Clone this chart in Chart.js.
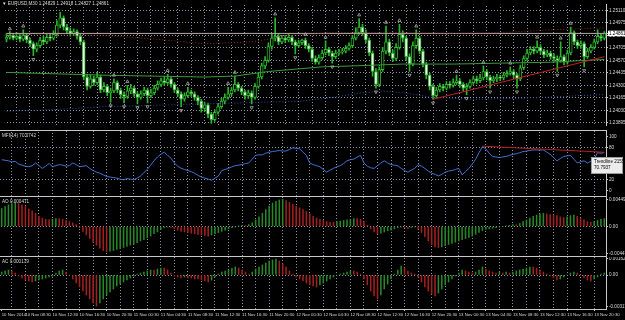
<!DOCTYPE html>
<html><head><meta charset="utf-8">
<script src="https://cdn.jsdelivr.net/npm/chart.js@4.4.1/dist/chart.umd.min.js"></script>
<style>
html,body{margin:0;padding:0;background:#000;}
#wrap{position:relative;width:625px;height:320px;background:#000;overflow:hidden;font-family:"Liberation Sans","DejaVu Sans",sans-serif;}
canvas{position:absolute;left:0;}
.sep{position:absolute;left:0;width:607px;height:1px;background:#c8c8c8;}
.lbl{position:absolute;left:2px;color:#d8d8d8;font-size:4.6px;line-height:5px;white-space:nowrap;}
#tip{position:absolute;left:591px;top:157px;width:32px;height:17px;background:#ececec;border:1px solid #9a9a9a;color:#000;font-size:4.6px;line-height:6px;padding:1px 0 0 2px;box-sizing:border-box;white-space:nowrap;}
</style></head>
<body>
<div id="wrap">
  <canvas id="cMain" width="625" height="130" style="top:0px"></canvas>
  <div class="sep" style="top:130px"></div>
  <canvas id="cMfi" width="625" height="65" style="top:131px"></canvas>
  <div class="sep" style="top:196px"></div>
  <canvas id="cAo" width="625" height="59" style="top:197px"></canvas>
  <div class="sep" style="top:256px"></div>
  <canvas id="cAc" width="625" height="63" style="top:257px"></canvas>
  <div class="lbl" style="top:1px">&#9660; EURUSD,M30 1.24829 1.24918 1.24827 1.24861</div>
  <div class="lbl" style="top:133px">MFI(14) 70.0742</div>
  <div class="lbl" style="top:199px">AO 0.000471</div>
  <div class="lbl" style="top:259px">AC 0.000179</div>
  <div id="tip">Trendline 2155<br>70.7937</div>
</div>
<script>
// ---------- data ----------
const tickLabels = ["10 Nov 2014","10 Nov 08:30","10 Nov 12:30","10 Nov 16:30","10 Nov 20:30","11 Nov 00:30","11 Nov 04:30","11 Nov 08:30","11 Nov 12:30","11 Nov 16:30","11 Nov 20:30","12 Nov 00:30","12 Nov 04:30","12 Nov 08:30","12 Nov 12:30","12 Nov 16:30","12 Nov 20:30","13 Nov 00:30","13 Nov 04:30","13 Nov 08:30","13 Nov 12:30","13 Nov 16:30","13 Nov 20:30"];
const tickBars = [0,7,15,23,31,39,47,55,63,71,79,87,95,103,111,119,127,135,143,151,159,167,175];

const open = [1.2480,1.2482,1.2484,1.2481,1.2483,1.2480,1.2484,1.2479,1.2475,1.2469,
1.2473,1.2479,1.2477,1.2482,1.2481,1.2485,1.2495,1.2503,1.2493,1.2489,
1.2486,1.2488,1.2483,1.2477,1.2439,1.2429,1.2437,1.2433,1.2439,1.2425,
1.2429,1.2422,1.2424,1.2433,1.2425,1.2420,1.2418,1.2424,1.2427,1.2421,
1.2417,1.2421,1.2425,1.2419,1.2422,1.2427,1.2431,1.2435,1.2433,1.2437,
1.2431,1.2425,1.2421,1.2415,1.2419,1.2423,1.2421,1.2417,1.2413,1.2405,
1.2409,1.2399,1.2393,1.2401,1.2407,1.2413,1.2417,1.2421,1.2425,1.2431,
1.2427,1.2423,1.2419,1.2422,1.2417,1.2429,1.2439,1.2451,1.2457,1.2472,
1.2481,1.2483,1.2477,1.2481,1.2479,1.2482,1.2477,1.2473,1.2476,1.2479,
1.2473,1.2469,1.2459,1.2455,1.2460,1.2465,1.2469,1.2465,1.2461,1.2465,
1.2466,1.2467,1.2470,1.2473,1.2481,1.2487,1.2493,1.2487,1.2479,1.2465,
1.2445,1.2431,1.2447,1.2467,1.2477,1.2465,1.2459,1.2471,1.2485,1.2481,
1.2461,1.2453,1.2473,1.2481,1.2467,1.2453,1.2441,1.2429,1.2419,1.2425,
1.2429,1.2427,1.2431,1.2430,1.2433,1.2435,1.2431,1.2427,1.2429,1.2433,
1.2437,1.2435,1.2438,1.2445,1.2439,1.2435,1.2437,1.2439,1.2438,1.2441,
1.2443,1.2445,1.2441,1.2437,1.2449,1.2459,1.2465,1.2469,1.2467,1.2471,
1.2467,1.2463,1.2465,1.2461,1.2459,1.2457,1.2461,1.2455,1.2465,1.2487,
1.2477,1.2473,1.2475,1.2461,1.2467,1.2471,1.2477,1.2483,1.2481];

const high = [1.2486,1.2488,1.2486,1.2487,1.2485,1.2490,1.2486,1.2481,1.2477,1.2476,
1.2482,1.2483,1.2485,1.2486,1.2489,1.2500,1.2509,1.2505,1.2496,1.2492,
1.2491,1.2490,1.2485,1.2479,1.2442,1.2441,1.2440,1.2444,1.2441,1.2433,
1.2431,1.2427,1.2437,1.2435,1.2427,1.2423,1.2430,1.2431,1.2429,1.2423,
1.2424,1.2428,1.2427,1.2426,1.2430,1.2435,1.2438,1.2439,1.2442,1.2439,
1.2433,1.2427,1.2423,1.2422,1.2428,1.2425,1.2423,1.2419,1.2415,1.2412,
1.2411,1.2401,1.2404,1.2410,1.2416,1.2421,1.2428,1.2428,1.2440,1.2433,
1.2429,1.2425,1.2425,1.2424,1.2432,1.2443,1.2454,1.2461,1.2476,1.2486,
1.2503,1.2486,1.2484,1.2484,1.2485,1.2484,1.2479,1.2479,1.2480,1.2481,
1.2475,1.2471,1.2462,1.2463,1.2468,1.2478,1.2471,1.2467,1.2468,1.2469,
1.2470,1.2473,1.2476,1.2484,1.2492,1.2502,1.2496,1.2490,1.2481,1.2467,
1.2448,1.2450,1.2471,1.2494,1.2480,1.2468,1.2475,1.2496,1.2489,1.2483,
1.2464,1.2477,1.2490,1.2483,1.2469,1.2455,1.2443,1.2431,1.2428,1.2432,
1.2431,1.2434,1.2434,1.2437,1.2441,1.2437,1.2433,1.2432,1.2436,1.2440,
1.2440,1.2442,1.2451,1.2447,1.2441,1.2440,1.2442,1.2441,1.2444,1.2446,
1.2450,1.2447,1.2443,1.2452,1.2462,1.2469,1.2472,1.2472,1.2478,1.2474,
1.2469,1.2468,1.2467,1.2464,1.2462,1.2477,1.2463,1.2468,1.2493,1.2489,
1.2479,1.2478,1.2477,1.2470,1.2474,1.2480,1.2490,1.2486,1.2488];

const low = [1.2477,1.2480,1.2479,1.2479,1.2477,1.2478,1.2476,1.2472,1.2462,1.2466,
1.2471,1.2474,1.2475,1.2478,1.2479,1.2483,1.2492,1.2490,1.2486,1.2483,
1.2484,1.2480,1.2474,1.2436,1.2425,1.2427,1.2430,1.2431,1.2422,1.2423,
1.2419,1.2412,1.2422,1.2422,1.2416,1.2411,1.2416,1.2421,1.2418,1.2410,
1.2415,1.2419,1.2411,1.2417,1.2420,1.2425,1.2429,1.2430,1.2431,1.2428,
1.2422,1.2418,1.2407,1.2413,1.2417,1.2418,1.2414,1.2409,1.2401,1.2402,
1.2395,1.2389,1.2391,1.2399,1.2405,1.2410,1.2415,1.2419,1.2423,1.2424,
1.2420,1.2415,1.2416,1.2410,1.2415,1.2427,1.2437,1.2448,1.2455,1.2469,
1.2478,1.2474,1.2475,1.2476,1.2477,1.2474,1.2464,1.2471,1.2474,1.2470,
1.2466,1.2456,1.2453,1.2453,1.2458,1.2463,1.2462,1.2454,1.2459,1.2463,
1.2464,1.2465,1.2468,1.2471,1.2479,1.2485,1.2484,1.2476,1.2462,1.2440,
1.2427,1.2429,1.2445,1.2464,1.2462,1.2456,1.2457,1.2469,1.2477,1.2457,
1.2445,1.2451,1.2470,1.2464,1.2450,1.2437,1.2425,1.2415,1.2417,1.2423,
1.2424,1.2425,1.2427,1.2428,1.2431,1.2428,1.2424,1.2420,1.2427,1.2431,
1.2432,1.2433,1.2436,1.2436,1.2427,1.2433,1.2434,1.2435,1.2436,1.2439,
1.2441,1.2438,1.2427,1.2435,1.2447,1.2457,1.2463,1.2464,1.2465,1.2464,
1.2460,1.2461,1.2458,1.2456,1.2445,1.2455,1.2452,1.2453,1.2463,1.2474,
1.2470,1.2470,1.2450,1.2459,1.2465,1.2469,1.2475,1.2478,1.2479];

const close = [1.2482,1.2484,1.2481,1.2483,1.2480,1.2484,1.2479,1.2475,1.2469,1.2473,
1.2479,1.2477,1.2482,1.2481,1.2485,1.2495,1.2503,1.2493,1.2489,1.2486,
1.2488,1.2483,1.2477,1.2439,1.2429,1.2437,1.2433,1.2439,1.2425,1.2429,
1.2422,1.2424,1.2433,1.2425,1.2420,1.2418,1.2424,1.2427,1.2421,1.2417,
1.2421,1.2425,1.2419,1.2422,1.2427,1.2431,1.2435,1.2433,1.2437,1.2431,
1.2425,1.2421,1.2415,1.2419,1.2423,1.2421,1.2417,1.2413,1.2405,1.2409,
1.2399,1.2393,1.2401,1.2407,1.2413,1.2417,1.2421,1.2425,1.2431,1.2427,
1.2423,1.2419,1.2422,1.2417,1.2429,1.2439,1.2451,1.2457,1.2472,1.2481,
1.2483,1.2477,1.2481,1.2479,1.2482,1.2477,1.2473,1.2476,1.2479,1.2473,
1.2469,1.2459,1.2455,1.2460,1.2465,1.2469,1.2465,1.2461,1.2465,1.2466,
1.2467,1.2470,1.2473,1.2481,1.2487,1.2493,1.2487,1.2479,1.2465,1.2445,
1.2431,1.2447,1.2467,1.2477,1.2465,1.2459,1.2471,1.2485,1.2481,1.2461,
1.2453,1.2473,1.2481,1.2467,1.2453,1.2441,1.2429,1.2419,1.2425,1.2429,
1.2427,1.2431,1.2430,1.2433,1.2435,1.2431,1.2427,1.2429,1.2433,1.2437,
1.2435,1.2438,1.2445,1.2439,1.2435,1.2437,1.2439,1.2438,1.2441,1.2443,
1.2445,1.2441,1.2437,1.2449,1.2459,1.2465,1.2469,1.2467,1.2471,1.2467,
1.2463,1.2465,1.2461,1.2459,1.2457,1.2461,1.2455,1.2465,1.2487,1.2477,
1.2473,1.2475,1.2461,1.2467,1.2471,1.2477,1.2483,1.2481,1.24861];

const fractalUpBars = [1,5,32,36,48,54,66,68,80,89,95,105,113,117,122,134,142,150,158,165,168];
const fractalUpPrices = [1.2491,1.2494,1.2441,1.2434,1.2446,1.2432,1.2432,1.2444,1.2507,1.2485,1.2482,1.2506,1.2498,1.2500,1.2494,1.2445,1.2455,1.2454,1.2482,1.2481,1.2497];
const fractalDnBars = [8,31,35,39,42,52,61,73,86,97,110,120,127,137,144,152,164,172];
const fractalDnPrices = [1.2458,1.2408,1.2407,1.2406,1.2407,1.2403,1.2385,1.2406,1.2460,1.2450,1.2423,1.2441,1.2411,1.2416,1.2423,1.2423,1.2441,1.2446];

const maRedBars = [0,29,44,59,73,85,97,118,133,147,162,178];
const maRedVals = [1.2485,1.2484,1.2480,1.2475,1.2477,1.2484,1.2487,1.2487,1.2486,1.2487,1.2490,1.2492];
const maGreenBars = [0,29,59,68,78,94,103,118,133,147,162,178];
const maGreenVals = [1.2444,1.2441,1.2439,1.2440,1.2445,1.2450,1.2451,1.2453,1.2453,1.2454,1.2455,1.2458];
const maBlueBars = [0,15,29,59,88,97,106,112,118,127,139,153,171,178];
const maBlueVals = [1.2402,1.2404,1.2407,1.2410,1.2413,1.2417,1.2422,1.2424,1.2422,1.2417,1.2415,1.2416,1.2419,1.2420];
const trendBars = [127,178];
const trendVals = [1.2415,1.2461];
const currentPrice = 1.24861;
const priceTicks = [1.25110,1.24975,1.24840,1.24705,1.24570,1.24435,1.24300,1.24165,1.24030,1.23895];

const mfi = [57,56,55,53,54,49,47,45,44,46,51,46,41,45,50,44,46,48,47,45,
46,51,48,44,45,46,41,37,34,32,29,26,25,24,23,21,20,22,21,20,
23,27,33,39,47,55,62,67,71,65,60,51,45,41,39,37,35,32,28,25,
23,21,19,23,27,37,39,41,44,46,47,48,50,51,58,65,66,66,69,71,
72,73,74,73,73,76,79,78,77,71,65,51,48,46,44,39,34,38,41,44,
46,50,55,57,58,62,65,51,45,42,41,46,51,55,51,48,47,46,41,37,
34,38,41,48,45,41,36,32,30,27,30,34,36,37,39,41,29,35,41,49,
58,70,81,77,69,63,62,61,62,63,65,67,68,70,72,73,74,75,75,75,
75,71,67,61,55,59,63,64,65,58,51,53,55,51,54,58,70,69,70];
const mfiTrendBars = [142,178];
const mfiTrendVals = [82,70.8];
const mfiTicks = [100,80,20,0];

const ao = [0.0030,0.0033,0.0036,0.0038,0.0039,0.0038,0.0036,0.0033,0.0029,0.0026,
0.0022,0.0017,0.0014,0.0012,0.0011,0.0012,0.0013,0.0013,0.0012,0.0010,
0.0008,0.0006,0.0003,-0.0002,-0.0008,-0.0014,-0.0020,-0.0026,-0.0031,-0.0036,
-0.0040,-0.0042,-0.0041,-0.0040,-0.0038,-0.0037,-0.0035,-0.0033,-0.0031,-0.0029,
-0.0027,-0.0024,-0.0022,-0.0019,-0.0016,-0.0012,-0.0009,-0.0005,-0.0002,-0.0001,
-0.0002,-0.0004,-0.0006,-0.0008,-0.0009,-0.0010,-0.0011,-0.0012,-0.0013,-0.0014,
-0.0015,-0.0016,-0.0014,-0.0012,-0.0010,-0.0008,-0.0006,-0.0004,-0.0002,-0.0001,
0.0001,0.0002,0.0002,0.0003,0.0006,0.0011,0.0016,0.0022,0.0028,0.0034,
0.0039,0.0042,0.0044,0.0045,0.0043,0.0040,0.0037,0.0034,0.0031,0.0028,
0.0025,0.0021,0.0017,0.0014,0.0012,0.0010,0.0008,0.0007,0.0007,0.0008,
0.0009,0.0010,0.0011,0.0012,0.0013,0.0013,0.0012,0.0008,0.0002,-0.0004,
-0.0009,-0.0012,-0.0011,-0.0009,-0.0007,-0.0006,-0.0004,-0.0002,-0.0001,-0.0002,
-0.0003,-0.0002,-0.0001,-0.0004,-0.0010,-0.0017,-0.0024,-0.0030,-0.0034,-0.0035,
-0.0034,-0.0032,-0.0030,-0.0028,-0.0026,-0.0024,-0.0022,-0.0020,-0.0018,-0.0016,
-0.0013,-0.0010,-0.0007,-0.0005,-0.0004,-0.0003,-0.0002,-0.0001,0.0000,0.0001,
0.0002,0.0003,0.0003,0.0005,0.0008,0.0011,0.0014,0.0017,0.0019,0.0021,
0.0022,0.0021,0.0020,0.0019,0.0018,0.0016,0.0015,0.0016,0.0018,0.0019,
0.0017,0.0014,0.0011,0.0008,0.0007,0.0008,0.0010,0.0012,0.0013];
const aoTicks = [0.004496,0,-0.004472];

const ac = [0.0003,0.0004,0.0005,0.0004,0.0002,-0.0001,-0.0003,-0.0005,-0.0006,-0.0007,
-0.0006,-0.0005,-0.0004,-0.0003,-0.0002,-0.0001,0.0002,0.0004,0.0005,0.0003,
0.0000,-0.0004,-0.0008,-0.0012,-0.0016,-0.0020,-0.0024,-0.0028,-0.0031,-0.0028,
-0.0024,-0.0020,-0.0017,-0.0014,-0.0011,-0.0009,-0.0007,-0.0005,-0.0003,-0.0001,
0.0001,0.0002,0.0003,0.0004,0.0005,0.0005,0.0006,0.0007,0.0007,0.0005,
0.0002,-0.0001,-0.0002,-0.0003,-0.0002,-0.0003,-0.0003,-0.0004,-0.0004,-0.0005,
-0.0006,-0.0007,-0.0005,-0.0002,0.0001,0.0003,0.0004,0.0005,0.0007,0.0008,
0.0007,0.0005,0.0003,0.0001,0.0003,0.0006,0.0008,0.0010,0.0012,0.0014,
0.0015,0.0016,0.0014,0.0011,0.0008,0.0004,0.0001,-0.0002,-0.0004,-0.0006,
-0.0008,-0.0010,-0.0011,-0.0012,-0.0010,-0.0008,-0.0006,-0.0004,-0.0002,0.0000,
0.0001,0.0002,0.0003,0.0004,0.0004,0.0003,0.0001,-0.0004,-0.0010,-0.0016,
-0.0021,-0.0024,-0.0020,-0.0014,-0.0009,-0.0004,0.0001,0.0005,0.0009,0.0007,
0.0004,0.0002,0.0001,-0.0002,-0.0007,-0.0012,-0.0016,-0.0019,-0.0021,-0.0018,
-0.0014,-0.0010,-0.0007,-0.0004,-0.0001,0.0002,0.0005,0.0004,0.0003,0.0002,
0.0003,0.0005,0.0008,0.0006,0.0004,0.0003,0.0002,0.0003,0.0002,0.0003,
0.0002,0.0003,0.0004,0.0005,0.0006,0.0007,0.0008,0.0008,0.0007,0.0005,
0.0003,0.0001,-0.0001,-0.0003,-0.0005,-0.0004,-0.0002,0.0000,0.0002,0.0003,
0.0002,0.0000,-0.0003,-0.0005,-0.0006,-0.0004,-0.0002,0.0001,0.0002];
const acTicks = [0.001621,0,-0.003175];

// ---------- categories (M30 bars from 10 Nov 05:00) ----------
const MONTHS = ["Jan","Feb","Mar","Apr","May","Jun","Jul","Aug","Sep","Oct","Nov","Dec"];
const categories = [];
const t0 = Date.UTC(2014,10,10,5,0);
for (let i = 0; i < close.length; i++) {
  const d = new Date(t0 + i*1800000);
  const p = n => String(n).padStart(2,'0');
  categories.push(p(d.getUTCDate())+' '+MONTHS[d.getUTCMonth()]+' '+p(d.getUTCHours())+':'+p(d.getUTCMinutes()));
}
const pts = (bars, vals) => bars.map((b,k)=>({x: categories[b], y: vals[k]}));

// ---------- styles ----------
const FONT = "Liberation Sans";
function dotted(color){
  const c = document.createElement('canvas'); c.width = 3; c.height = 3;
  const g = c.getContext('2d'); g.fillStyle = color;
  g.fillRect(0,0,1,1); g.fillRect(1,2,1,1); g.fillRect(2,1,1,1);
  return g.createPattern(c,'repeat');
}
const GRID = dotted('#8c93a0');
const NONE = 'rgba(0,0,0,0)';
const AXIS = '#c8c8c8';
const TXT = '#d8d8d8';
const CANDLE = '#2db52d';
const HGREEN = '#2a862a';
const HRED = '#a22020';

function xScale(showTicks){
  return {
    type:'category', offset:true,
    grid:{offset:false, drawTicks:showTicks, tickLength:2,
      color: c => (c.index % 4 === 3) ? GRID : NONE,
      tickColor: c => tickBars.includes(c.index) ? AXIS : NONE},
    border:{display:showTicks, color:AXIS},
    ticks:{display:showTicks, autoSkip:false, maxRotation:0, minRotation:0, align:'start', padding:1,
      color:TXT, font:{family:FONT, size:4.3},
      callback:(v,i)=>{const k = tickBars.indexOf(i); return k>=0 ? tickLabels[k] : '';}},
    afterFit: s => { s.paddingLeft = 0; s.paddingRight = 0; s.height = showTicks ? 11 : 0; }
  };
}
function yScale(min, max, tickVals, fmt, gridOn, extraTicks){
  return {
    position:'right', min, max,
    afterBuildTicks: s => { s.ticks = tickVals.map(v=>({value:v})); },
    afterFit: s => { s.width = 19; s.paddingTop = 0; s.paddingBottom = 0; },
    grid:{ drawTicks:true, tickLength:2, tickColor:AXIS,
      color: c => (c.tick && gridOn(c.tick.value)) ? GRID : NONE},
    border:{display:true, color:AXIS},
    ticks:Object.assign({padding:1, color:TXT, font:{family:FONT, size:4.6}, callback: v => fmt(v)}, extraTicks || {})
  };
}
const common = {
  responsive:false, animation:false, devicePixelRatio:1, events:[],
  layout:{padding:0},
  plugins:{legend:{display:false}, tooltip:{enabled:false}}
};

// ---------- main price chart ----------
new Chart(document.getElementById('cMain'), {
  type:'bar',
  data:{ labels:categories, datasets:[
    {type:'line', data:pts(trendBars,trendVals), borderColor:'#c62020', borderWidth:1, pointRadius:0, order:1},
    {type:'line', data:pts(fractalUpBars,fractalUpPrices), showLine:false, pointStyle:'triangle', pointRadius:1.8,
      pointBorderWidth:0.8, pointBorderColor:'#b0b0b0', pointBackgroundColor:NONE, order:1},
    {type:'line', data:pts(fractalDnBars,fractalDnPrices), showLine:false, pointStyle:'triangle', pointRotation:180, pointRadius:1.8,
      pointBorderWidth:0.8, pointBorderColor:'#b0b0b0', pointBackgroundColor:NONE, order:1},
    {type:'line', data:pts(maRedBars,maRedVals), borderColor:'#8e2a2a', borderWidth:1, borderDash:[1,2], pointRadius:0, order:3},
    {type:'line', data:pts(maGreenBars,maGreenVals), borderColor:'#3a9a3a', borderWidth:1, pointRadius:0, order:3},
    {type:'line', data:pts(maBlueBars,maBlueVals), borderColor:'#3050a8', borderWidth:1, borderDash:[1,2], pointRadius:0, order:3},
    {type:'line', data:pts([0,close.length-1],[currentPrice,currentPrice]), borderColor:'#b9a9a9', borderWidth:1, pointRadius:0, order:8},
    {type:'bar', data:low.map((l,i)=>[l,high[i]]), backgroundColor:CANDLE, borderWidth:0, barThickness:1, grouped:false, order:10},
    {type:'bar', data:close.map((c,i)=>[open[i],c]), grouped:false, barThickness:3, borderWidth:1, borderSkipped:false,
      borderColor:CANDLE, backgroundColor: ctx => (close[ctx.dataIndex] >= open[ctx.dataIndex]) ? '#000000' : '#f4f4f4', order:9}
  ]},
  options:Object.assign({}, common, {
    scales:{
      x:xScale(false),
      y:yScale(1.2387, 1.2517, priceTicks.concat([currentPrice]), v => v.toFixed(5), v => v !== currentPrice, {
        showLabelBackdrop: c => c.tick && c.tick.value === currentPrice,
        backdropColor:'#ffffff', backdropPadding:{left:1,right:2,top:0,bottom:0},
        color: c => (c.tick && c.tick.value === currentPrice) ? '#000000' : TXT })
    }
  })
});

// ---------- MFI ----------
new Chart(document.getElementById('cMfi'), {
  type:'line',
  data:{ labels:categories, datasets:[
    {data:pts(mfiTrendBars,mfiTrendVals), borderColor:'#b82020', borderWidth:1, pointRadius:0, order:1},
    {data:mfi, borderColor:'#4470d0', borderWidth:1, pointRadius:0, tension:0, order:2}
  ]},
  options:Object.assign({}, common, {
    scales:{ x:xScale(false), y:yScale(-10, 110, mfiTicks, v => String(v), v => v === 80 || v === 20) }
  })
});

// ---------- AO ----------
new Chart(document.getElementById('cAo'), {
  type:'bar',
  data:{ labels:categories, datasets:[
    {data:ao, barThickness:0.9, borderWidth:0,
     backgroundColor: ctx => (ctx.dataIndex === 0 || ao[ctx.dataIndex] > ao[ctx.dataIndex-1]) ? HGREEN : HRED}
  ]},
  options:Object.assign({}, common, {
    scales:{ x:xScale(false), y:yScale(-0.0049, 0.0049, aoTicks, v => v === 0 ? '0.00' : String(v), v => v === 0) }
  })
});

// ---------- AC ----------
new Chart(document.getElementById('cAc'), {
  type:'bar',
  data:{ labels:categories, datasets:[
    {data:ac, barThickness:0.9, borderWidth:0,
     backgroundColor: ctx => (ctx.dataIndex === 0 || ac[ctx.dataIndex] > ac[ctx.dataIndex-1]) ? HGREEN : HRED}
  ]},
  options:Object.assign({}, common, {
    scales:{ x:xScale(true), y:yScale(-0.0034, 0.0018, acTicks, v => v === 0 ? '0.00' : String(v), v => v === 0) }
  })
});
</script>
</body></html>
